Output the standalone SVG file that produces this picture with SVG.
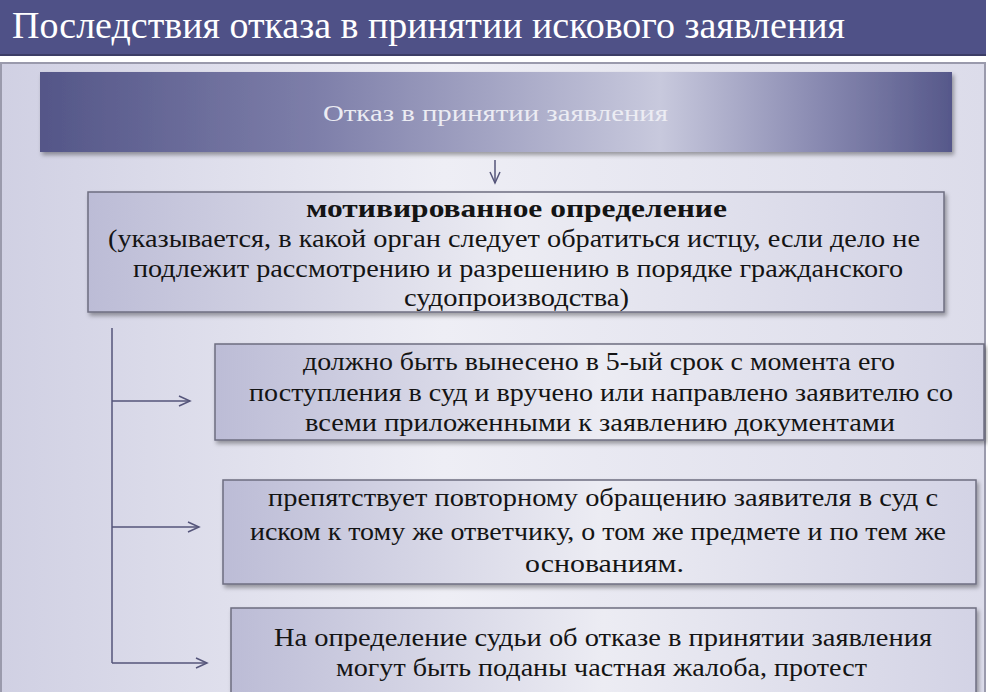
<svg xmlns="http://www.w3.org/2000/svg" width="988" height="692" viewBox="0 0 988 692">
<style>
.t{font-family:"Liberation Serif","Times New Roman",serif;fill:#141414;font-size:25px}
.b{font-weight:bold}
.box{stroke:#6e6e80;stroke-width:1.5;fill:url(#boxg);filter:url(#sh)}
.con{stroke:#55557a;stroke-width:1.5;fill:none}
</style>
<defs>
<linearGradient id="bg" x1="0" y1="0" x2="1" y2="0">
<stop offset="0" stop-color="#d0d0e3"/><stop offset="0.45" stop-color="#eeeef5"/><stop offset="1" stop-color="#dcdcea"/>
</linearGradient>
<linearGradient id="hg" x1="0" y1="0" x2="1" y2="0">
<stop offset="0" stop-color="#545688"/><stop offset="0.3" stop-color="#7d7ea9"/><stop offset="0.68" stop-color="#c8c9dd"/><stop offset="0.85" stop-color="#8a8bb2"/><stop offset="1" stop-color="#56588a"/>
</linearGradient>
<linearGradient id="boxg" x1="0" y1="0" x2="1" y2="0">
<stop offset="0" stop-color="#bcbcd6"/><stop offset="0.5" stop-color="#ececf3"/><stop offset="1" stop-color="#d3d3e5"/>
</linearGradient>
<filter id="sh" x="-5%" y="-10%" width="110%" height="130%">
<feDropShadow dx="2" dy="3" stdDeviation="2" flood-color="#000" flood-opacity="0.35"/>
</filter>
<marker id="ar" markerWidth="14" markerHeight="12" refX="12" refY="6" orient="auto" markerUnits="userSpaceOnUse">
<path d="M1,1 L12,6 L1,11" fill="none" stroke="#55557a" stroke-width="1.5"/>
</marker>
</defs>
<rect width="988" height="692" fill="#ffffff"/>
<g id="title">
<rect x="0" y="0" width="986" height="56" fill="#4f5187"/>
<rect x="0" y="54" width="986" height="2" fill="#3c3d66"/>
<text x="12" y="38" font-family="Liberation Serif,serif" font-size="37" fill="#ffffff" textLength="833" lengthAdjust="spacingAndGlyphs">Последствия отказа в принятии искового заявления</text>
</g>
<rect x="1" y="63" width="984" height="640" fill="url(#bg)" stroke="#9a9aac" stroke-width="2"/>
<g id="header">
<rect x="40" y="72" width="912" height="80" fill="url(#hg)" filter="url(#sh)"/>
<text x="323" y="121" font-family="Liberation Serif,serif" font-size="23" fill="#ececf3" textLength="345" lengthAdjust="spacingAndGlyphs">Отказ в принятии заявления</text>
</g>
<g id="connectors">
<line class="con" x1="495" y1="160" x2="495" y2="183" marker-end="url(#ar)"/>
<line class="con" x1="112" y1="328" x2="112" y2="663"/>
<line class="con" x1="112" y1="401" x2="190" y2="401" marker-end="url(#ar)"/>
<line class="con" x1="112" y1="527" x2="199" y2="527" marker-end="url(#ar)"/>
<line class="con" x1="112" y1="663" x2="207" y2="663" marker-end="url(#ar)"/>
</g>
<g id="node1">
<rect class="box" x="88" y="192" width="856" height="120"/>
<text class="t b" x="306" y="217" textLength="421" lengthAdjust="spacingAndGlyphs">мотивированное определение</text>
<text class="t" x="108" y="247" textLength="812" lengthAdjust="spacingAndGlyphs">(указывается, в какой орган следует обратиться истцу, если дело не</text>
<text class="t" x="133" y="277" textLength="770" lengthAdjust="spacingAndGlyphs">подлежит рассмотрению и разрешению в порядке гражданского</text>
<text class="t" x="404" y="306" textLength="225" lengthAdjust="spacingAndGlyphs">судопроизводства)</text>
</g>
<g id="node2">
<rect class="box" x="215" y="344" width="769" height="96"/>
<text class="t" x="303" y="370" textLength="592" lengthAdjust="spacingAndGlyphs">должно быть вынесено в 5-ый срок с момента его</text>
<text class="t" x="249" y="401" textLength="704" lengthAdjust="spacingAndGlyphs">поступления в суд и вручено или направлено заявителю со</text>
<text class="t" x="305" y="431" textLength="590" lengthAdjust="spacingAndGlyphs">всеми приложенными к заявлению документами</text>
</g>
<g id="node3">
<rect class="box" x="223" y="480" width="753" height="104"/>
<text class="t" x="268" y="506" textLength="670" lengthAdjust="spacingAndGlyphs">препятствует повторному обращению заявителя в суд с</text>
<text class="t" x="250" y="540" textLength="696" lengthAdjust="spacingAndGlyphs">иском к тому же ответчику, о том же предмете и по тем же</text>
<text class="t" x="525" y="572" textLength="159" lengthAdjust="spacingAndGlyphs">основаниям.</text>
</g>
<g id="node4">
<rect class="box" x="231" y="608" width="745" height="100"/>
<text class="t" x="274" y="646" textLength="658" lengthAdjust="spacingAndGlyphs">На определение судьи об отказе в принятии заявления</text>
<text class="t" x="336" y="676" textLength="531" lengthAdjust="spacingAndGlyphs">могут быть поданы частная жалоба, протест</text>
</g>
</svg>
